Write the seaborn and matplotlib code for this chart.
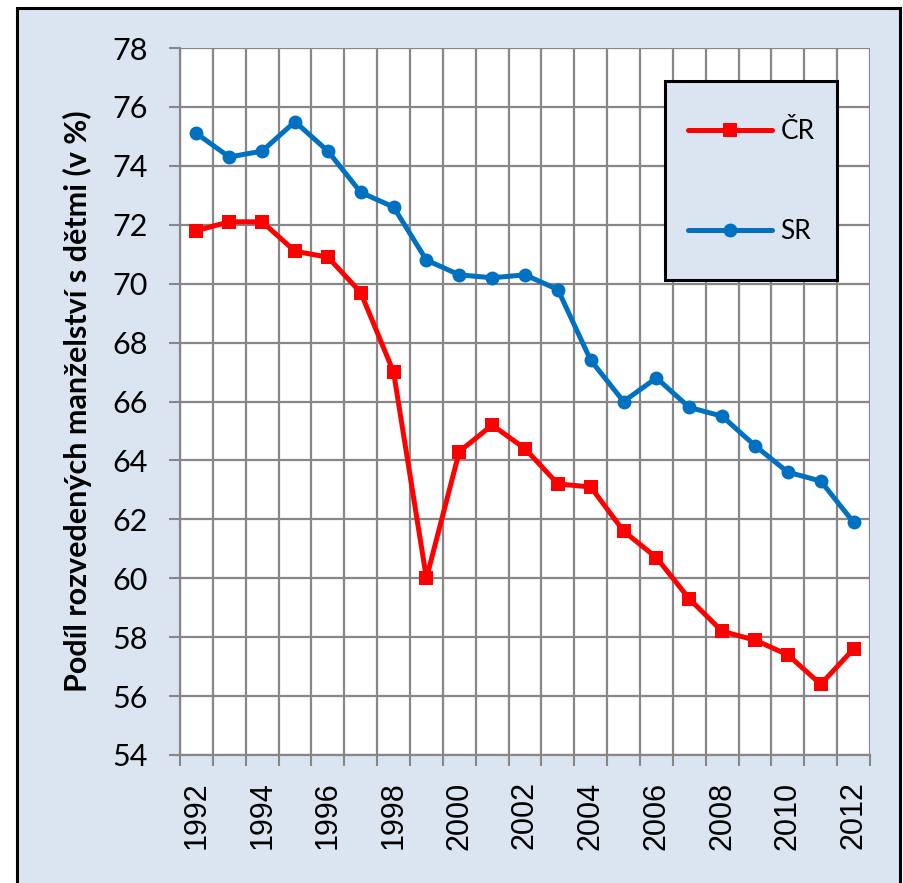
import numpy as np
import pandas as pd
import matplotlib
matplotlib.use("Agg")
import matplotlib.pyplot as plt
import seaborn as sns
from matplotlib.patches import Rectangle
from matplotlib.ticker import FixedLocator

# ── Data ───────────────────────────────────────────────────
years = list(range(1992, 2013))
cr = [71.8, 72.1, 72.1, 71.1, 70.9, 69.7, 67.0, 60.0, 64.3, 65.2, 64.4,
      63.2, 63.1, 61.6, 60.7, 59.3, 58.2, 57.9, 57.4, 56.4, 57.6]
sr = [75.1, 74.3, 74.5, 75.5, 74.5, 73.1, 72.6, 70.8, 70.3, 70.2, 70.3,
      69.8, 67.4, 66.0, 66.8, 65.8, 65.5, 64.5, 63.6, 63.3, 61.9]
series = ["ČR", "SR"]
y_ticks = list(range(54, 79, 2))
x_label_years = years[::2]

df = pd.DataFrame({
    "rok":   years + years,
    "podil": cr + sr,
    "stat":  [series[0]] * len(years) + [series[1]] * len(years),
})

# ── Style ──────────────────────────────────────────────────
sns.set_theme(style="white")
plt.rcParams["font.family"] = ["Lato", "DejaVu Sans"]
for key in ["text.color", "axes.labelcolor", "xtick.color", "ytick.color"]:
    plt.rcParams[key] = "black"

BG = "#dbe5f1"
GRID = "#878787"
colors = {"ČR": "#ff0000", "SR": "#0070c0"}

fig = plt.figure(figsize=(9.04, 8.83), dpi=100, facecolor="white")
# chart area frame (light blue with black border)
fig.patches.append(Rectangle((17 / 904, -0.02), (900 - 17) / 904, 1.02 - 8 / 883,
                             transform=fig.transFigure, facecolor=BG,
                             edgecolor="black", linewidth=2.2, zorder=-10))

ax = fig.add_axes([180 / 904, 1 - 755 / 883, (870 - 180) / 904, (755 - 48) / 883])
ax.set_zorder(1)
ax.set_facecolor("white")

sns.lineplot(data=df, x="rok", y="podil", hue="stat", style="stat",
             markers={"ČR": "s", "SR": "o"}, dashes=False, palette=colors,
             linewidth=3.6, markersize=10, markeredgewidth=0,
             legend=False, ax=ax, zorder=3)

# ── Axes ───────────────────────────────────────────────────
ax.set_xlim(years[0] - 0.5, years[-1] + 0.5)
ax.set_ylim(y_ticks[0], y_ticks[-1])
ax.set_yticks(y_ticks)
ax.set_xticks(x_label_years)
ax.set_xticklabels([str(y) for y in x_label_years], rotation=90,
                   family=["Liberation Sans", "DejaVu Sans"], fontsize=22)
ax.xaxis.set_minor_locator(FixedLocator(np.arange(years[0] - 0.5, years[-1] + 1, 1)))

ax.tick_params(axis="y", which="major", direction="out", length=8, width=1.5,
               color=GRID, labelsize=22, pad=15, left=True)
ax.tick_params(axis="x", which="major", length=0, pad=19)
ax.tick_params(axis="x", which="minor", direction="out", length=8, width=1.5,
               color=GRID, bottom=True)

ax.grid(True, axis="y", which="major", color=GRID, linewidth=1.6)
ax.grid(True, axis="x", which="minor", color=GRID, linewidth=1.6)
ax.grid(False, axis="x", which="major")
ax.set_axisbelow(True)

for side in ["top", "right"]:
    ax.spines[side].set_visible(False)
for side in ["left", "bottom"]:
    ax.spines[side].set_color(GRID)
    ax.spines[side].set_linewidth(1.6)

ax.set_xlabel("")
ax.set_ylabel("Podíl rozvedených manželství s dětmi (v %)", fontsize=22,
              fontweight="bold", labelpad=15)

# ── Legend ─────────────────────────────────────────────────
# box drawn separately so the padding can differ horizontally / vertically
ax.add_patch(Rectangle((665 / 904, 1 - 280 / 883), (837 - 665) / 904, (280 - 81) / 883,
                       transform=fig.transFigure, facecolor=BG, edgecolor="black",
                       linewidth=2.2, zorder=4, clip_on=False))
leg = ax.legend(ax.lines[:2], series, loc="upper left",
                bbox_to_anchor=(688 / 904, 1 - 119 / 883),
                bbox_transform=fig.transFigure,
                fontsize=19, frameon=False, borderpad=0,
                labelspacing=2.85, handlelength=3.2,
                handletextpad=0.3, borderaxespad=0)
leg.set_zorder(5)

plt.savefig("out.png", dpi=100, facecolor="white")
